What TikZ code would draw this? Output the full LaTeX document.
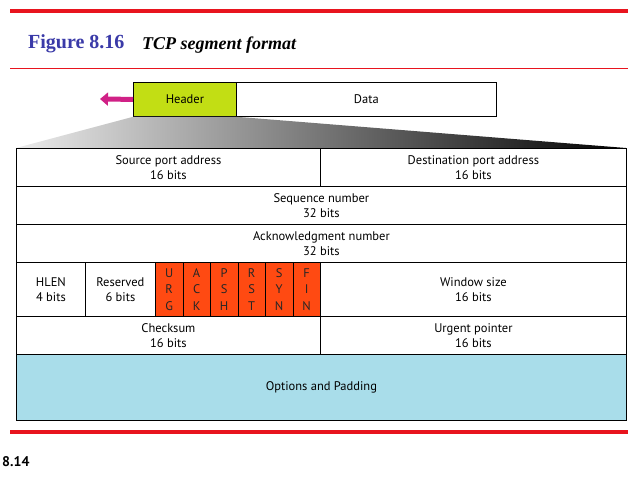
\documentclass[tikz,border=0pt]{standalone}
\usepackage{fontspec}
\setmainfont{PT Sans}
\newfontfamily\titlefont{Liberation Serif}
\usetikzlibrary{positioning, calc, arrows.meta, shadings}
\definecolor{hdrgreen}{HTML}{C2DE14}
\definecolor{flagred}{HTML}{FF4A12}
\definecolor{optblue}{HTML}{A9DDEA}
\definecolor{barred}{HTML}{E8141E}
\definecolor{figblue}{HTML}{3A3AA8}
\tikzset{
  field/.style={draw, thick, inner sep=0pt, align=center, font=\fontsize{12.5}{15.5}\selectfont, anchor=north west},
  flag/.style={field, fill=flagred, text=black!85, font=\fontsize{12.5}{16.5}\selectfont}
}
\begin{document}
\begin{tikzpicture}[x=1pt, y=-1pt]
        \useasboundingbox (0,0) rectangle (638,479);
        % rules
        \draw[barred, line width=4pt] (10,11) -- (628,11);
        \draw[barred, line width=1pt] (10,68) -- (628,68);
        \draw[barred, line width=4pt] (10,432) -- (628,432);
        \node[anchor=west, font=\titlefont\bfseries\fontsize{20}{24}\selectfont, text=figblue, inner sep=0pt] (fig) at (28,44) {Figure 8.16};
        \node[anchor=west, font=\titlefont\bfseries\itshape\fontsize{18}{22}\selectfont, inner sep=0pt] (cap) at (142,45) {TCP segment format};
        \node[anchor=west, font=\bfseries\fontsize{14}{16}\selectfont, inner sep=0pt] (pg) at (2,462) {8.14};

        % segment
        \node[field, fill=hdrgreen, minimum width=103pt, minimum height=34pt] (hdr) at (133,82) {Header};
        \node[field, minimum width=260pt, minimum height=34pt] (data) at (236,82) {Data};
        \coordinate (arr) at (100,99);
        \draw[-{Triangle[length=8pt,width=13pt]}, line width=5pt, draw=magenta!85!black] (hdr.west) -- (arr);
        \shade[left color=gray!15, right color=black] (hdr.south west) -- (hdr.south east) -- (626,148) -- (16,148) -- cycle;

        % header fields
        \node[field, minimum width=304pt, minimum height=38pt] (src) at (16,148) {Source port address\\16 bits};
        \node[field, minimum width=306pt, minimum height=38pt] (dst) at (320,148) {Destination port address\\16 bits};
        \node[field, minimum width=610pt, minimum height=38pt] (seq) at (16,186) {Sequence number\\32 bits};
        \node[field, minimum width=610pt, minimum height=38pt] (ack) at (16,224) {Acknowledgment number\\32 bits};
        \node[field, minimum width=69pt, minimum height=54pt] (hlen) at (16,262) {HLEN\\4 bits};
        \node[field, minimum width=70pt, minimum height=54pt] (res) at (85,262) {Reserved\\6 bits};
        \foreach \f [count=\i from 0] in {U\\R\\G, A\\C\\K, P\\S\\H, R\\S\\T, S\\Y\\N, F\\I\\N}
          \node[flag, minimum width=27.5pt, minimum height=54pt] (flag\i) at ({155+27.5*\i},262) {\f};
        \node[field, minimum width=306pt, minimum height=54pt] (win) at (320,262) {Window size\\16 bits};
        \node[field, minimum width=304pt, minimum height=38pt] (chk) at (16,316) {Checksum\\16 bits};
        \node[field, minimum width=306pt, minimum height=38pt] (urg) at (320,316) {Urgent pointer\\16 bits};
        \node[field, fill=optblue, minimum width=610pt, minimum height=66pt] (opt) at (16,354) {Options and Padding};
    \end{tikzpicture}
\end{document}
